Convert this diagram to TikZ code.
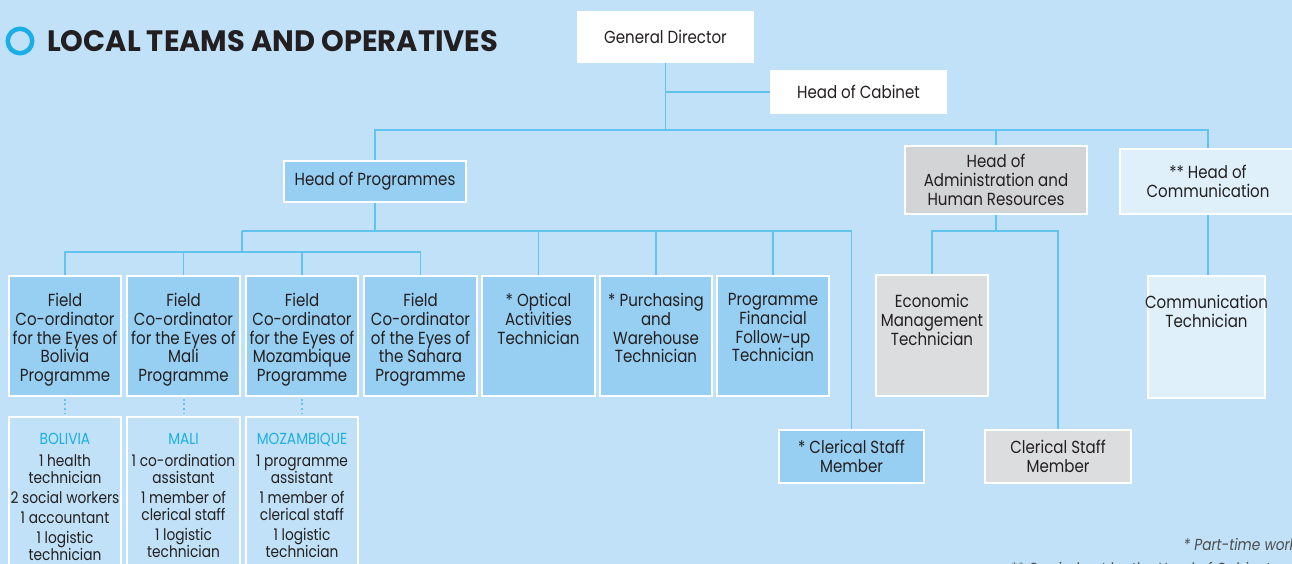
\documentclass[tikz,border=0pt]{standalone}
\usepackage{graphicx}
\usepackage{fontspec}
\setmainfont{Poppins}[FakeStretch=0.86]
\newfontfamily\titlefont{Poppins}
\usetikzlibrary{backgrounds}
\definecolor{bg}{HTML}{C0E1F7}
\definecolor{ln}{HTML}{62C3EE}
\definecolor{bbox}{HTML}{97CFF2}
\definecolor{gbox}{HTML}{D3D4D6}
\definecolor{lgbox}{HTML}{DCDDDF}
\definecolor{cbox}{HTML}{DFF0FB}
\definecolor{cyanT}{HTML}{1AAEE6}
\definecolor{txtc}{HTML}{231F20}
\definecolor{notec}{HTML}{4D4D4F}
\begin{document}
\begin{tikzpicture}[x=1pt,y=-1pt,
  box/.style={rectangle, draw=white, line width=1.6pt, inner sep=0pt},
  bluebox/.style={box, fill=bbox},
  lbl/.style={text=txtc, align=center, inner sep=0pt, font=\fontsize{17.5}{18.8}\selectfont},
  clbl/.style={text=txtc, align=center, inner sep=0pt, font=\fontsize{16}{17}\selectfont},
  conn/.style={draw=ln, line width=1.9pt},
  dotconn/.style={draw=ln, line width=2pt, dash pattern=on 2pt off 2.6pt},
  note/.style={text=notec, inner sep=0pt, font=\fontsize{16}{18}\selectfont\itshape}]
\useasboundingbox (0,0) rectangle (1292,564);
\clip (0,0) rectangle (1292,564);

% title
\node[circle, draw=cyanT, line width=4.5pt, minimum size=24.5pt, inner sep=0pt] (ring) at (20,41) {};
\node[anchor=south west, inner sep=0pt, text=txtc] (title) at (47,52)
  {\resizebox{451pt}{21pt}{\titlefont\bfseries LOCAL TEAMS AND OPERATIVES}};

% top levels
\node[box, fill=white, minimum width=175pt, minimum height=50pt, lbl] (gd) at (665.5,37) {General Director};
\node[box, fill=white, minimum width=175pt, minimum height=42pt, lbl] (hc) at (858.5,92) {Head of Cabinet};
\node[bluebox, minimum width=182pt, minimum height=41pt, lbl] (hp) at (375,181.5) {Head of Programmes};
\node[box, fill=gbox, minimum width=182pt, minimum height=68pt, lbl] (ha) at (996,180) {Head of\\Administration and\\Human Resources};
\node[box, fill=cbox, minimum width=176pt, minimum height=65pt, lbl] (hcom) at (1208,181.5) {** Head of\\Communication};

% programme level boxes
\node[bluebox, minimum width=112pt, minimum height=120pt] (f1) at (65,336) {};
\node[bluebox, minimum width=113pt, minimum height=120pt] (f2) at (183.5,336) {};
\node[bluebox, minimum width=112pt, minimum height=120pt] (f3) at (302,336) {};
\node[bluebox, minimum width=113pt, minimum height=120pt] (f4) at (420.5,336) {};
\node[bluebox, minimum width=113pt, minimum height=120pt] (opt) at (538.5,336) {};
\node[bluebox, minimum width=112pt, minimum height=120pt] (pur) at (656,336) {};
\node[bluebox, minimum width=112pt, minimum height=120pt] (pff) at (773,336) {};
\node[lbl, anchor=north] (f1t) at (65,293) {Field\\Co-ordinator\\for the Eyes of\\Bolivia\\Programme};
\node[lbl, anchor=north] (f2t) at (183.5,293) {Field\\Co-ordinator\\for the Eyes of\\Mali\\Programme};
\node[lbl, anchor=north] (f3t) at (302,293) {Field\\Co-ordinator\\for the Eyes of\\Mozambique\\Programme};
\node[lbl, anchor=north] (f4t) at (420.5,293) {Field\\Co-ordinator\\of the Eyes of\\the Sahara\\Programme};
\node[lbl, anchor=north] (optt) at (538.5,293) {* Optical\\Activities\\Technician};
\node[lbl, anchor=north] (purt) at (656,293) {* Purchasing\\and\\Warehouse\\Technician};
\node[lbl, anchor=north] (pfft) at (773,293) {Programme\\Financial\\Follow-up\\Technician};

\node[bluebox, minimum width=145pt, minimum height=53pt, lbl] (cs1) at (851.5,456.5) {* Clerical Staff\\Member};

% admin and communication
\node[box, fill=lgbox, minimum width=112pt, minimum height=121pt] (eco) at (932,335.5) {};
\node[lbl, anchor=north] (ecot) at (932,294) {Economic\\Management\\Technician};
\node[box, fill=lgbox, minimum width=146pt, minimum height=53pt, lbl] (cs2) at (1058,456.5) {Clerical Staff\\Member};
\node[box, fill=cbox, minimum width=117pt, minimum height=122pt] (ct) at (1206.5,337) {};
\node[lbl, anchor=north] (ctt) at (1206.5,295) {Communication\\Technician};

% country boxes
\node[box, fill=bg, minimum width=112pt, minimum height=170pt] (c1) at (65,502) {};
\node[box, fill=bg, minimum width=113pt, minimum height=170pt] (c2) at (183.5,502) {};
\node[box, fill=bg, minimum width=112pt, minimum height=170pt] (c3) at (302,502) {};
\node[clbl, anchor=north] (c1t) at (65,433) {{\color{cyanT}BOLIVIA}\\[5pt]1 health\\technician\\[3pt]2 social workers\\[3pt]1 accountant\\[3pt]1 logistic\\technician};
\node[clbl, anchor=north] (c2t) at (183.5,433) {{\color{cyanT}MALI}\\[5pt]1 co-ordination\\assistant\\[3pt]1 member of\\clerical staff\\[3pt]1 logistic\\technician};
\node[clbl, anchor=north] (c3t) at (302,433) {{\color{cyanT}MOZAMBIQUE}\\[5pt]1 programme\\assistant\\[3pt]1 member of\\clerical staff\\[3pt]1 logistic\\technician};

% footnotes
\node[note, anchor=base east] (n1) at (1297,550) {* Part-time work};
\node[note, anchor=base west] (n2) at (1010,574) {** Carried out by the Head of Cabinet};

% connectors
\coordinate (L1) at (0,130);
\coordinate (L2) at (0,231);
\coordinate (L3) at (0,252);
\coordinate (j1) at (242,231);
\begin{pgfonlayer}{background}
\fill[bg] (0,0) rectangle (1292,564);
\draw[conn] (gd.south) -- (gd.south |- L1);
\draw[conn] (gd.south |- hc.west) -- (hc.west);
\draw[conn] (hp.north) -- (hp.north |- L1) -- (hcom.north |- L1) -- (hcom.north);
\draw[conn] (ha.north) -- (ha.north |- L1);
\draw[conn] (hp.south) -- (hp.south |- L2);
\draw[conn] (j1) -- (cs1.north |- L2) -- (cs1.north);
\draw[conn] (j1) -- (j1 |- L3);
\draw[conn] (f1.north) -- (f1.north |- L3) -- (f4.north |- L3) -- (f4.north);
\draw[conn] (f2.north) -- (f2.north |- L3);
\draw[conn] (f3.north) -- (f3.north |- L3);
\draw[conn] (opt.north) -- (opt.north |- L2);
\draw[conn] (pur.north) -- (pur.north |- L2);
\draw[conn] (pff.north) -- (pff.north |- L2);
\draw[conn] (ha.south) -- (ha.south |- L2);
\draw[conn] (eco.north) -- (eco.north |- L2) -- (cs2.north |- L2) -- (cs2.north);
\draw[conn] (hcom.south) -- (hcom.south |- ct.north);
\draw[dotconn] ([yshift=-2pt]f1.south) -- ([yshift=2pt]c1.north);
\draw[dotconn] ([yshift=-2pt]f2.south) -- ([yshift=2pt]c2.north);
\draw[dotconn] ([yshift=-2pt]f3.south) -- ([yshift=2pt]c3.north);
\end{pgfonlayer}
\end{tikzpicture}
\end{document}
